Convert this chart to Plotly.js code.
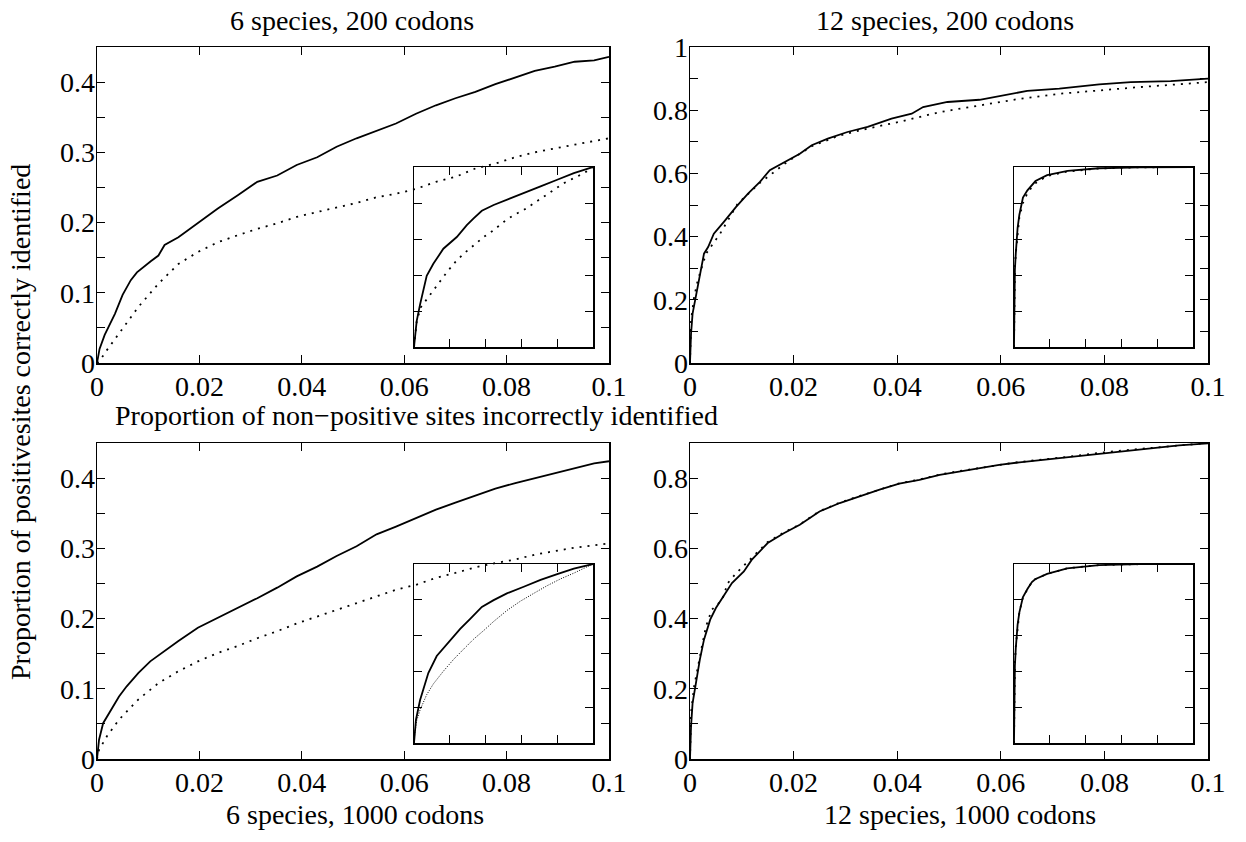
<!DOCTYPE html>
<html>
<head>
<meta charset="utf-8">
<script src="https://cdn.plot.ly/plotly-3.0.1.min.js"></script>
<style>html,body{margin:0;padding:0;background:#fff}#chart{width:1246px;height:842px}</style>
</head>
<body>
<div id="chart"></div>
<script>
// ---------- Data ----------
// Top-left: 6 species, 200 codons
var tlSolidX = [0, 0.0005, 0.0015, 0.0035, 0.0050, 0.0066, 0.0078, 0.0089, 0.0105, 0.0120, 0.0132, 0.0159, 0.0197, 0.0236, 0.0275, 0.0313, 0.0352, 0.0390, 0.0430, 0.0468, 0.0507, 0.0546, 0.0584, 0.0623, 0.0662, 0.0700, 0.0739, 0.0778, 0.0817, 0.0855, 0.0894, 0.0933, 0.0971, 0.1000];
var tlSolidY = [0, 0.020, 0.040, 0.070, 0.097, 0.118, 0.129, 0.136, 0.145, 0.153, 0.168, 0.179, 0.199, 0.220, 0.239, 0.258, 0.267, 0.282, 0.293, 0.308, 0.320, 0.331, 0.341, 0.355, 0.367, 0.377, 0.386, 0.397, 0.407, 0.416, 0.422, 0.429, 0.431, 0.436];
var tlDotX = [0, 0.0004, 0.0019, 0.0043, 0.0081, 0.0120, 0.0159, 0.0197, 0.0236, 0.0275, 0.0313, 0.0352, 0.0390, 0.0430, 0.0468, 0.0507, 0.0546, 0.0584, 0.0623, 0.0662, 0.0700, 0.0739, 0.0778, 0.0817, 0.0855, 0.0894, 0.0933, 0.1000];
var tlDotY = [0, 0.002, 0.018, 0.042, 0.080, 0.113, 0.141, 0.158, 0.172, 0.182, 0.191, 0.199, 0.208, 0.215, 0.221, 0.228, 0.236, 0.241, 0.248, 0.258, 0.265, 0.277, 0.284, 0.293, 0.300, 0.305, 0.311, 0.320];
var tlInSolidX = [0, 0.006, 0.015, 0.034, 0.071, 0.108, 0.164, 0.239, 0.295, 0.333, 0.379, 0.445, 0.519, 0.613, 0.707, 0.800, 0.893, 1];
var tlInSolidY = [0, 0.069, 0.144, 0.237, 0.396, 0.462, 0.546, 0.611, 0.677, 0.714, 0.757, 0.789, 0.817, 0.854, 0.892, 0.929, 0.966, 1];
var tlInDotX = [0, 0.006, 0.015, 0.037, 0.086, 0.131, 0.183, 0.230, 0.277, 0.333, 0.389, 0.445, 0.501, 0.557, 0.613, 0.669, 0.725, 0.781, 0.837, 0.893, 0.950, 1];
var tlInDotY = [0, 0.050, 0.140, 0.219, 0.284, 0.350, 0.415, 0.471, 0.518, 0.564, 0.611, 0.649, 0.695, 0.733, 0.761, 0.798, 0.836, 0.873, 0.910, 0.938, 0.966, 1];

// Top-right: 12 species, 200 codons
var trSolidX = [0, 0.0002, 0.0005, 0.0012, 0.0019, 0.0027, 0.0035, 0.0046, 0.0065, 0.0089, 0.0112, 0.0135, 0.0154, 0.0189, 0.0212, 0.0235, 0.0266, 0.0304, 0.0343, 0.0389, 0.0428, 0.0450, 0.0497, 0.0559, 0.0605, 0.0651, 0.0713, 0.0790, 0.0851, 0.0928, 0.1000];
var trSolidY = [0, 0.093, 0.156, 0.219, 0.283, 0.346, 0.367, 0.409, 0.446, 0.494, 0.536, 0.573, 0.610, 0.641, 0.662, 0.689, 0.710, 0.731, 0.747, 0.773, 0.789, 0.810, 0.826, 0.833, 0.847, 0.861, 0.868, 0.882, 0.889, 0.892, 0.900];
var trDotX = [0, 0.0002, 0.0008, 0.0015, 0.0023, 0.0031, 0.0042, 0.0058, 0.0077, 0.0092, 0.0135, 0.0189, 0.0235, 0.0289, 0.0343, 0.0404, 0.0482, 0.0559, 0.0636, 0.0713, 0.0790, 0.0867, 0.0944, 0.1000];
var trDotY = [0, 0.135, 0.209, 0.262, 0.304, 0.346, 0.372, 0.409, 0.462, 0.504, 0.570, 0.638, 0.686, 0.720, 0.742, 0.763, 0.794, 0.815, 0.836, 0.852, 0.863, 0.873, 0.882, 0.889];
var trInSolidX = [0, 0.002, 0.005, 0.01, 0.02, 0.03, 0.05, 0.075, 0.1, 0.12, 0.185, 0.3, 0.475, 0.7, 1];
var trInSolidY = [0, 0.28, 0.43, 0.52, 0.66, 0.735, 0.83, 0.87, 0.9, 0.922, 0.955, 0.978, 0.993, 0.998, 1];
var trInDotX = [0, 0.002, 0.005, 0.01, 0.02, 0.03, 0.05, 0.075, 0.1, 0.12, 0.185, 0.3, 0.475, 0.7, 1];
var trInDotY = [0, 0.30, 0.43, 0.52, 0.645, 0.72, 0.80, 0.855, 0.889, 0.91, 0.95, 0.975, 0.992, 0.998, 1];

// Bottom-left: 6 species, 1000 codons
var blSolidX = [0, 0.0004, 0.0012, 0.0027, 0.0043, 0.0058, 0.0081, 0.0104, 0.0135, 0.0159, 0.0197, 0.0236, 0.0275, 0.0313, 0.0352, 0.0390, 0.0430, 0.0468, 0.0507, 0.0546, 0.0584, 0.0623, 0.0662, 0.0700, 0.0739, 0.0778, 0.0817, 0.0855, 0.0894, 0.0933, 0.0971, 0.1000];
var blSolidY = [0, 0.0275, 0.051, 0.070, 0.089, 0.1035, 0.1225, 0.139, 0.156, 0.168, 0.187, 0.201, 0.215, 0.229, 0.244, 0.260, 0.274, 0.289, 0.303, 0.320, 0.331, 0.343, 0.355, 0.365, 0.375, 0.385, 0.393, 0.400, 0.407, 0.415, 0.421, 0.424];
var blDotX = [0, 0.0004, 0.0019, 0.0043, 0.0081, 0.0120, 0.0159, 0.0197, 0.0236, 0.0275, 0.0313, 0.0352, 0.0390, 0.0430, 0.0468, 0.0507, 0.0546, 0.0584, 0.0623, 0.0662, 0.0700, 0.0739, 0.0778, 0.0817, 0.0855, 0.0894, 0.0933, 0.1000];
var blDotY = [0, 0.013, 0.032, 0.056, 0.085, 0.108, 0.125, 0.139, 0.151, 0.161, 0.172, 0.182, 0.193, 0.203, 0.213, 0.222, 0.232, 0.241, 0.248, 0.258, 0.265, 0.273, 0.279, 0.284, 0.291, 0.296, 0.301, 0.307];
var blInSolidX = [0, 0.005, 0.011, 0.034, 0.080, 0.127, 0.183, 0.258, 0.314, 0.379, 0.445, 0.519, 0.613, 0.707, 0.800, 0.893, 1];
var blInSolidY = [0, 0.080, 0.130, 0.240, 0.391, 0.486, 0.552, 0.637, 0.694, 0.760, 0.798, 0.836, 0.873, 0.911, 0.943, 0.974, 1];
var blInDotX = [0, 0.005, 0.015, 0.034, 0.071, 0.108, 0.164, 0.221, 0.277, 0.333, 0.389, 0.445, 0.520, 0.594, 0.669, 0.744, 0.819, 0.893, 1];
var blInDotY = [0, 0.060, 0.125, 0.185, 0.270, 0.330, 0.401, 0.467, 0.524, 0.580, 0.628, 0.679, 0.741, 0.792, 0.836, 0.879, 0.917, 0.949, 1];

// Bottom-right: 12 species, 1000 codons
var brSolidX = [0, 0.0002, 0.0005, 0.0012, 0.0019, 0.0027, 0.0039, 0.0050, 0.0065, 0.0081, 0.0104, 0.0119, 0.0150, 0.0181, 0.0212, 0.0250, 0.0289, 0.0327, 0.0366, 0.0404, 0.0443, 0.0482, 0.0520, 0.0559, 0.0597, 0.0636, 0.0713, 0.0790, 0.0867, 0.0944, 0.1000];
var brSolidY = [0, 0.093, 0.159, 0.226, 0.283, 0.340, 0.397, 0.430, 0.463, 0.501, 0.534, 0.567, 0.615, 0.643, 0.667, 0.705, 0.729, 0.748, 0.767, 0.784, 0.795, 0.809, 0.819, 0.828, 0.838, 0.845, 0.857, 0.871, 0.882, 0.893, 0.899];
var brDotX = [0, 0.0002, 0.0008, 0.0015, 0.0023, 0.0031, 0.0042, 0.0062, 0.0073, 0.0089, 0.0119, 0.0150, 0.0181, 0.0212, 0.0250, 0.0289, 0.0327, 0.0366, 0.0404, 0.0443, 0.0482, 0.0520, 0.0559, 0.0597, 0.0636, 0.0713, 0.0790, 0.0867, 0.0944, 0.1000];
var brDotY = [0, 0.131, 0.207, 0.264, 0.321, 0.378, 0.425, 0.453, 0.501, 0.529, 0.572, 0.618, 0.645, 0.668, 0.706, 0.730, 0.749, 0.768, 0.785, 0.796, 0.810, 0.820, 0.829, 0.839, 0.846, 0.858, 0.872, 0.883, 0.894, 0.900];
var brInSolidX = [0, 0.002, 0.005, 0.01, 0.02, 0.03, 0.05, 0.075, 0.1, 0.118, 0.185, 0.297, 0.475, 0.7, 1];
var brInSolidY = [0, 0.28, 0.43, 0.53, 0.66, 0.73, 0.815, 0.86, 0.899, 0.915, 0.945, 0.976, 0.994, 0.999, 1];
var brInDotX = [0, 0.002, 0.005, 0.01, 0.02, 0.03, 0.05, 0.075, 0.1, 0.118, 0.185, 0.297, 0.475, 0.7, 1];
var brInDotY = [0, 0.30, 0.44, 0.54, 0.66, 0.73, 0.815, 0.86, 0.9, 0.915, 0.945, 0.976, 0.994, 0.999, 1];

// Tick labels
var xTickVals = [0, 0.02, 0.04, 0.06, 0.08, 0.1];
var xTickText = ['0', '0.02', '0.04', '0.06', '0.08', '0.1'];
var y45TickVals = [0, 0.05, 0.1, 0.15, 0.2, 0.25, 0.3, 0.35, 0.4, 0.45];
var y45TickText = ['0', '', '0.1', '', '0.2', '', '0.3', '', '0.4', ''];
var y10TickVals = [0, 0.1, 0.2, 0.3, 0.4, 0.5, 0.6, 0.7, 0.8, 0.9, 1];
var y10TickText = ['0', '', '0.2', '', '0.4', '', '0.6', '', '0.8', '', '1'];
var y09TickVals = [0, 0.1, 0.2, 0.3, 0.4, 0.5, 0.6, 0.7, 0.8, 0.9];
var y09TickText = ['0', '', '0.2', '', '0.4', '', '0.6', '', '0.8', ''];
var insetTickVals = [0, 0.2, 0.4, 0.6, 0.8, 1];

var panelTitles = ['6 species, 200 codons', '12 species, 200 codons', '6 species, 1000 codons', '12 species, 1000 codons'];
var xTitle = 'Proportion of non\u2212positive sites incorrectly identified';
var yTitle = 'Proportion of positivesites correctly identified';

// ---------- Figure ----------
var W = 1246, H = 842;
function px(x) { return x / W; }
function py(y) { return 1 - y / H; }

var FONT = 'Liberation Serif, Times New Roman, serif';
var solid = {color: '#000', width: 1.8};
var dotted = {color: '#000', width: 1.8, dash: '2px,6px'};
var fineDot = {color: '#000', width: 1, dash: '1px,1.5px'};

function tr(x, y, xa, ya, line) {
  return {x: x, y: y, xaxis: xa, yaxis: ya, type: 'scatter', mode: 'lines', line: line, hoverinfo: 'skip', showlegend: false};
}

var data = [
  tr(tlSolidX, tlSolidY, 'x', 'y', solid),
  tr(tlDotX, tlDotY, 'x', 'y', dotted),
  tr(trSolidX, trSolidY, 'x2', 'y2', solid),
  tr(trDotX, trDotY, 'x2', 'y2', dotted),
  tr(blSolidX, blSolidY, 'x3', 'y3', solid),
  tr(blDotX, blDotY, 'x3', 'y3', dotted),
  tr(brSolidX, brSolidY, 'x4', 'y4', solid),
  tr(brDotX, brDotY, 'x4', 'y4', dotted),
  tr(tlInSolidX, tlInSolidY, 'x5', 'y5', solid),
  tr(tlInDotX, tlInDotY, 'x5', 'y5', dotted),
  tr(trInSolidX, trInSolidY, 'x6', 'y6', solid),
  tr(trInDotX, trInDotY, 'x6', 'y6', dotted),
  tr(blInSolidX, blInSolidY, 'x7', 'y7', solid),
  tr(blInDotX, blInDotY, 'x7', 'y7', fineDot),
  tr(brInSolidX, brInSolidY, 'x8', 'y8', solid),
  tr(brInDotX, brInDotY, 'x8', 'y8', dotted)
];

function axisBase(domain, anchor, range) {
  return {
    domain: domain, anchor: anchor, range: range,
    showline: true, linecolor: '#000', linewidth: 1.5, mirror: 'allticks',
    ticks: 'inside', ticklen: 8, tickwidth: 1, tickcolor: '#000',
    showgrid: false, zeroline: false, fixedrange: true,
    tickfont: {family: FONT, size: 28, color: '#000'}
  };
}
function mainX(domain, anchor) {
  var a = axisBase(domain, anchor, [0, 0.1]);
  a.tickmode = 'array'; a.tickvals = xTickVals; a.ticktext = xTickText;
  a.ticklabelstandoff = -2;
  return a;
}
function mainY(domain, anchor, range, vals, text) {
  var a = axisBase(domain, anchor, range);
  a.tickmode = 'array'; a.tickvals = vals; a.ticktext = text;
  a.ticklabelstandoff = -5;
  return a;
}
function insetAx(domain, anchor) {
  var a = axisBase(domain, anchor, [0, 1]);
  a.tickmode = 'array'; a.tickvals = insetTickVals; a.showticklabels = false;
  return a;
}

var xL = [px(97), px(609)], xR = [px(690), px(1208)];
var yT = [py(363), py(47)], yB = [py(759), py(443)];
var xLi = [px(414), px(593)], xRi = [px(1014), px(1193)];
var yTi = [py(347), py(167)], yBi = [py(743), py(564)];

function ann(text, x, y, angle) {
  return {text: text, x: px(x), y: py(y), xref: 'paper', yref: 'paper', xanchor: 'center', yanchor: 'middle',
          showarrow: false, textangle: angle || 0, font: {family: FONT, size: 28, color: '#000'}};
}

var layout = {
  width: W, height: H,
  margin: {l: 0, r: 0, t: 0, b: 0},
  paper_bgcolor: '#fff', plot_bgcolor: 'rgba(0,0,0,0)',
  showlegend: false,
  font: {family: FONT, size: 28, color: '#000'},
  xaxis: mainX(xL, 'y'),
  yaxis: mainY(yT, 'x', [0, 0.45], y45TickVals, y45TickText),
  xaxis2: mainX(xR, 'y2'),
  yaxis2: mainY(yT, 'x2', [0, 1], y10TickVals, y10TickText),
  xaxis3: mainX(xL, 'y3'),
  yaxis3: mainY(yB, 'x3', [0, 0.45], y45TickVals, y45TickText),
  xaxis4: mainX(xR, 'y4'),
  yaxis4: mainY(yB, 'x4', [0, 0.9], y09TickVals, y09TickText),
  xaxis5: insetAx(xLi, 'y5'), yaxis5: insetAx(yTi, 'x5'),
  xaxis6: insetAx(xRi, 'y6'), yaxis6: insetAx(yTi, 'x6'),
  xaxis7: insetAx(xLi, 'y7'), yaxis7: insetAx(yBi, 'x7'),
  xaxis8: insetAx(xRi, 'y8'), yaxis8: insetAx(yBi, 'x8'),
  annotations: [
    ann(panelTitles[0], 352, 21),
    ann(panelTitles[1], 945, 21),
    ann(panelTitles[2], 355, 814),
    ann(panelTitles[3], 960, 814),
    ann(xTitle, 416, 415),
    ann(yTitle, 20, 422, -90)
  ]
};

Plotly.newPlot('chart', data, layout, {displayModeBar: false, staticPlot: true});
</script>
</body>
</html>
